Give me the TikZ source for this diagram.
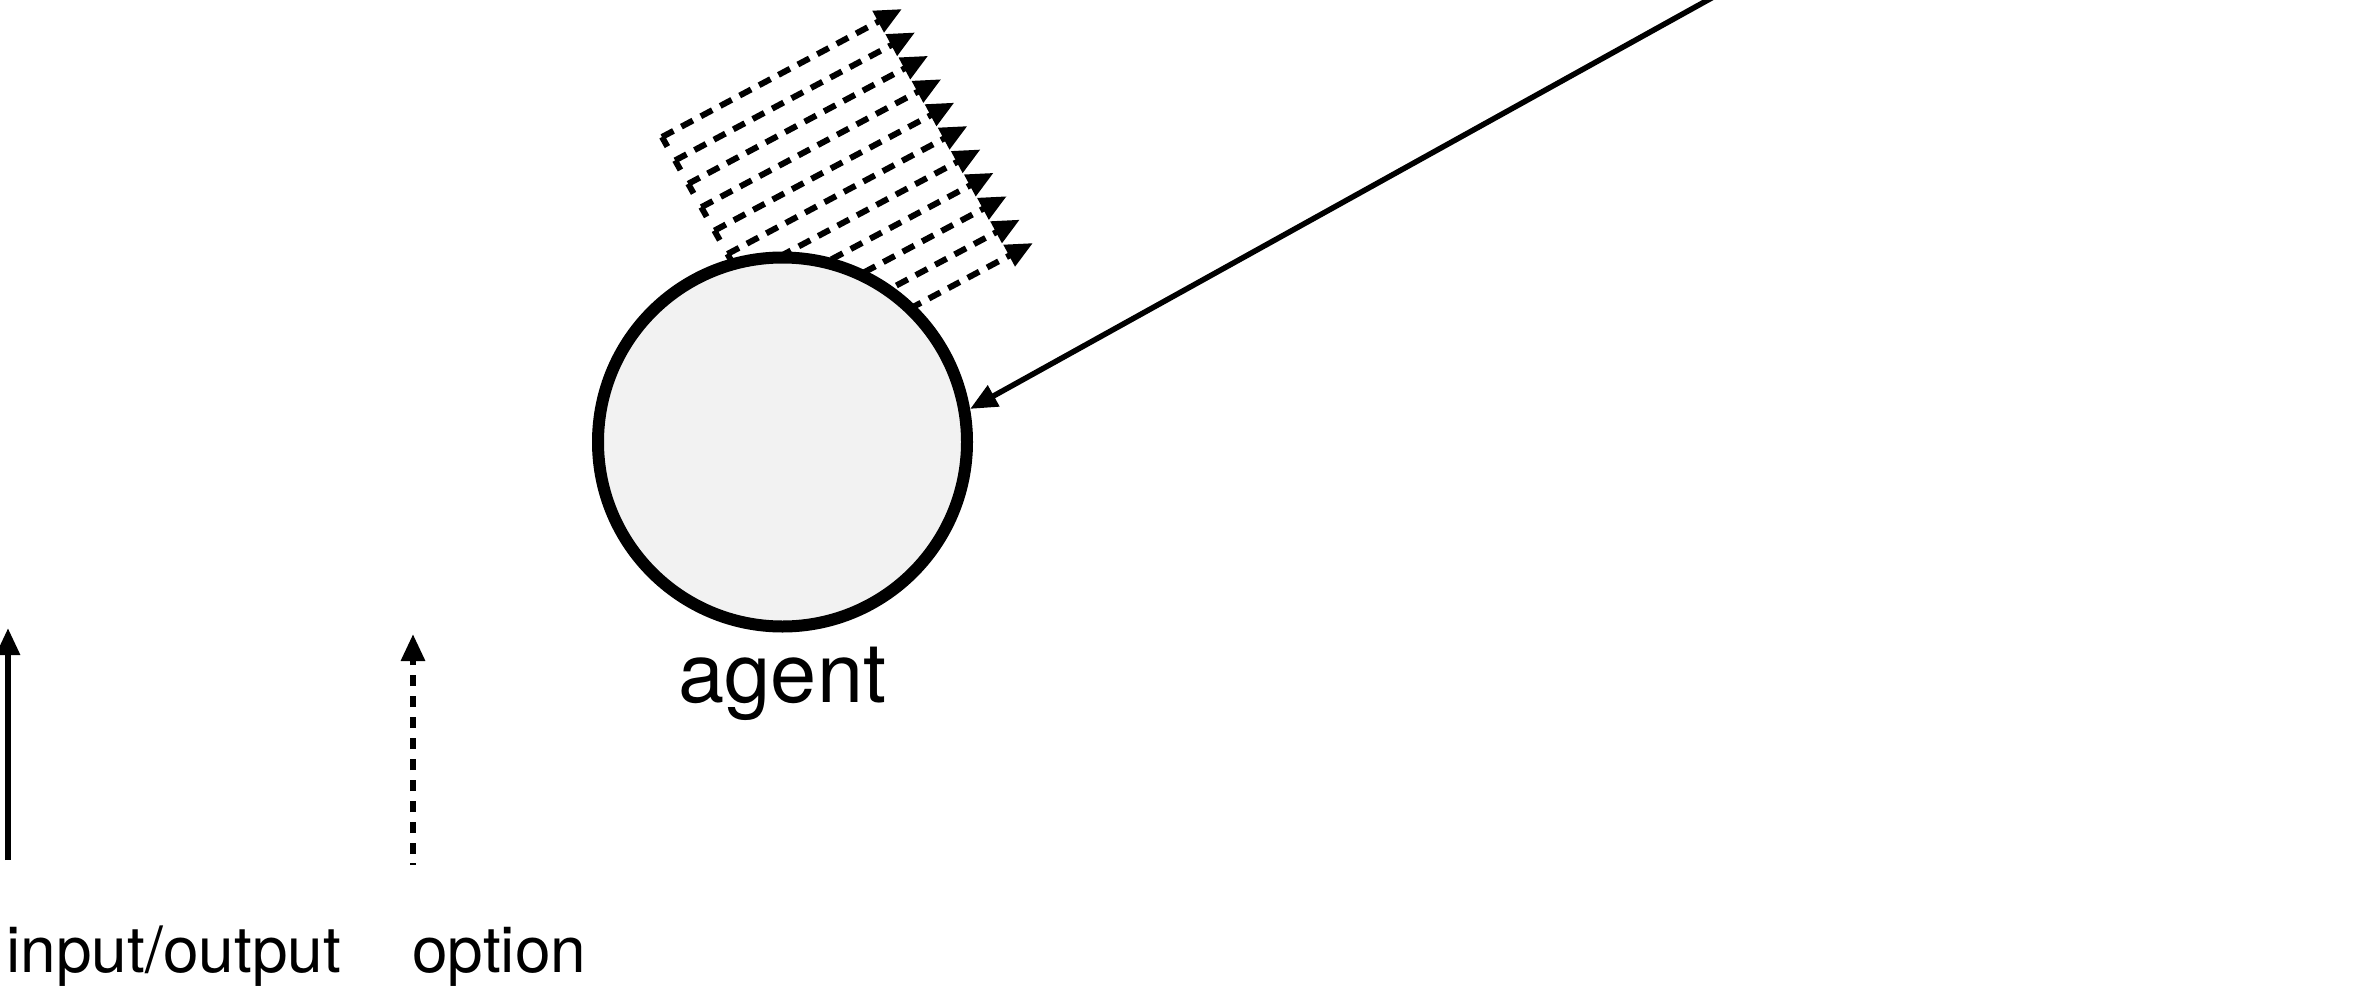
\documentclass[tikz,border=0pt]{standalone}
\usepackage{fontspec}
\setmainfont{TeX Gyre Heros}
\usetikzlibrary{arrows.meta}
\tikzset{
  headtip/.style={-{Triangle[length=27pt,width=23pt]}},
  optarrow/.style={line width=6pt, dash pattern=on 13pt off 9pt, headtip},
  ioarrow/.style={line width=5.5pt, headtip},
  agentnode/.style={circle, draw=black, line width=12pt, fill=black!5, minimum size=369pt, inner sep=0pt},
  lbl/.style={inner sep=0pt, anchor=base},
  legendlbl/.style={inner sep=0pt, anchor=base west, font=\fontsize{64}{72}\selectfont},
}
\begin{document}
\begin{tikzpicture}[x=1pt,y=-1pt]
\useasboundingbox (0,0) rectangle (2356,988);
% dashed option arrows
\foreach \k in {0,...,10}{
  \coordinate (s\k) at ({662+13.1*\k},{137+23.4*\k});
  \coordinate (t\k) at ({902+13.1*\k},{9+23.4*\k});
  \draw[optarrow] (s\k) -- (t\k);
}
\draw[line width=6pt, dash pattern=on 11pt off 15.8pt] (s0) -- (s10);
% agent
\node[agentnode] (agent) at (782.5,442) {};
\node[lbl, font=\fontsize{83}{90}\selectfont] (agentlbl) at (782.5,702) {agent};
% long input arrow
\coordinate (src) at (1744,-20);
\draw[ioarrow] (src) -- (agent.10.6);
% legend
\coordinate (l1a) at (8,860);
\coordinate (l1b) at (8,628);
\draw[line width=6pt, headtip] (l1a) -- (l1b);
\coordinate (l2a) at (413,865);
\coordinate (l2b) at (413,634);
\draw[line width=6pt, dash pattern=on 2pt off 9pt on 11pt off 10pt on 11pt off 10pt on 11pt off 10pt on 11pt off 10pt on 11pt off 10pt on 11pt off 10pt on 11pt off 10pt on 11pt off 10pt on 11pt off 10pt on 30pt off 0pt, headtip] (l2a) -- (l2b);
\node[legendlbl] (io) at (6,972) {input/output};
\node[legendlbl] (opt) at (412,972) {option};
\end{tikzpicture}
\end{document}
